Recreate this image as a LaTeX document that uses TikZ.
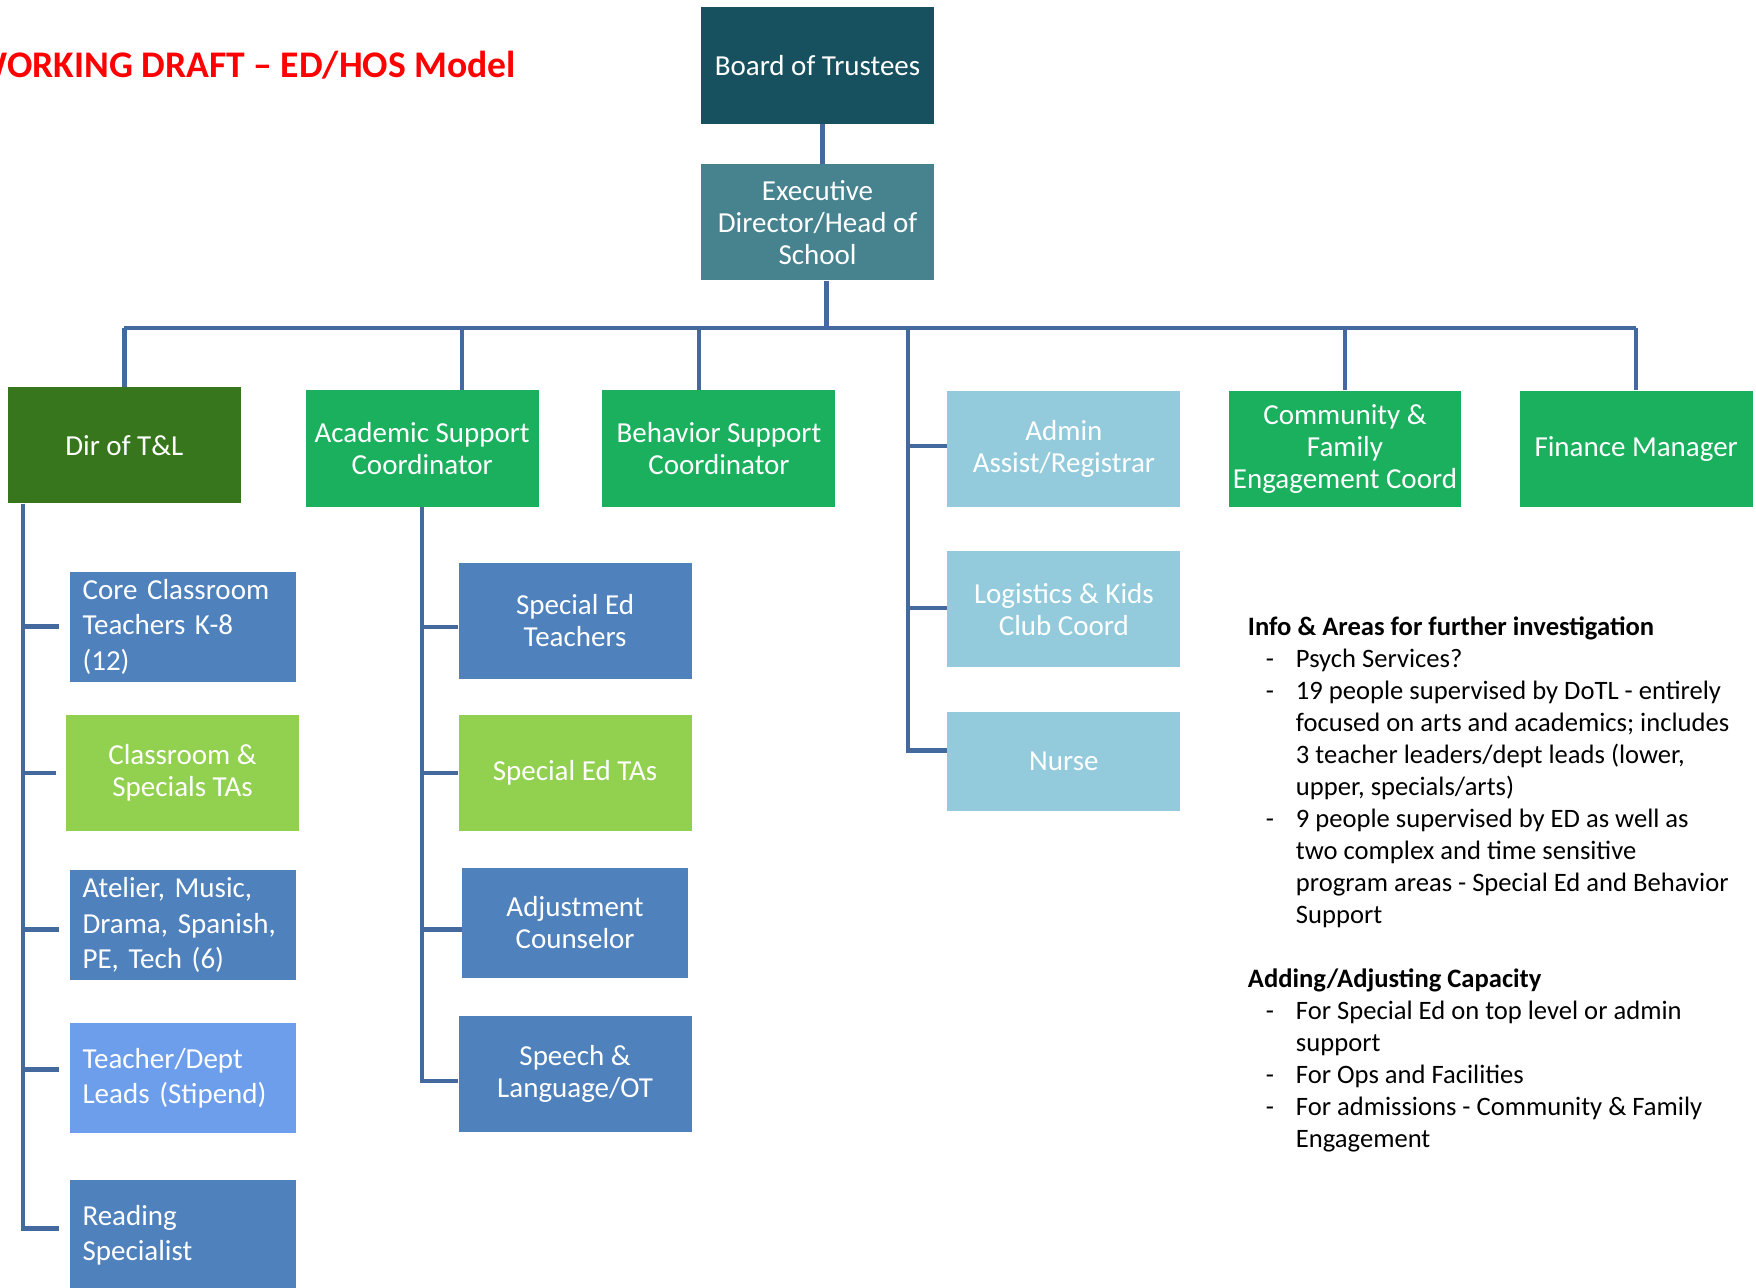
\documentclass[tikz,border=0pt]{standalone}
\usepackage{fontspec}
\setmainfont{Carlito}
\usepackage{xcolor}
\usetikzlibrary{positioning}
\definecolor{boardteal}{HTML}{17505E}
\definecolor{edteal}{HTML}{47828F}
\definecolor{darkgreen}{HTML}{38761D}
\definecolor{brightgreen}{HTML}{1AB05E}
\definecolor{limegreen}{HTML}{92D050}
\definecolor{staffblue}{HTML}{4F81BD}
\definecolor{leadblue}{HTML}{6D9EEB}
\definecolor{opsblue}{HTML}{93CBDC}
\definecolor{linkblue}{HTML}{44699E}
\newcommand{\bul}{\makebox[24pt][l]{\hspace*{9pt}-}}
\newcommand{\ind}{\hspace*{24pt}}
\frenchspacing

\begin{document}
\begin{tikzpicture}[
      x=0.56pt,y=-0.56pt,
      box/.style={text=white,inner sep=0pt,minimum width=116.5pt,
        minimum height=58.2pt,align=center,font=\fontsize{14.5}{16}\selectfont},
      leftbox/.style={box,align=left,text width=100pt,inner xsep=6.5pt,
        minimum width=113pt,minimum height=55pt,font=\fontsize{14.5}{17.7}\selectfont},
      link/.style={draw=linkblue,line width=2.2pt},
      note/.style={inner sep=0pt,align=left,font=\fontsize{13.3}{16}\selectfont}
    ]
      \useasboundingbox (0,0) rectangle (1568,1150);
      \fill[white] (0,0) rectangle (1568,1150);
      \node[anchor=base east,text=red,font=\fontsize{18.8}{22}\selectfont\bfseries]
        (title) at (467,69) {WORKING DRAFT -- ED/HOS Model};
      % top of the chart
      \node[box,fill=boardteal] (board) at (730,58.5) {Board of Trustees};
      \node[box,fill=edteal] (ed) at (730,198.5) {Executive\\Director/Head of\\School};
      % direct reports
      \node[box,fill=darkgreen] (dtl) at (111,397.5) {Dir of T\&L};
      \node[box,fill=brightgreen] (acad) at (377,400.5) {Academic Support\\Coordinator};
      \node[box,fill=brightgreen] (behav) at (642,400.5) {Behavior Support\\Coordinator};
      \node[box,fill=opsblue] (admin) at (950,401) {Admin\\Assist/Registrar};
      \node[box,fill=opsblue] (logi) at (950,544) {Logistics \& Kids\\Club Coord};
      \node[box,fill=opsblue,minimum height=49.3pt] (nurse) at (950,680) {Nurse};
      \node[box,fill=brightgreen] (comm) at (1201,401) {Community \&\\Family\\Engagement Coord};
      \node[box,fill=brightgreen] (fin) at (1461,401) {Finance Manager};
      % teaching and learning staff
      \node[leftbox,fill=staffblue] (core) at (163,559.5) {Core Classroom\\Teachers K-8\\(12)};
      \node[box,fill=limegreen] (ctas) at (163,690) {Classroom \&\\Specials TAs};
      \node[leftbox,fill=staffblue] (atel) at (163,826) {Atelier, Music,\\Drama, Spanish,\\PE, Tech (6)};
      \node[leftbox,fill=leadblue] (lead) at (163,963) {Teacher/Dept\\Leads (Stipend)};
      \node[leftbox,fill=staffblue] (read) at (163,1103) {Reading\\Specialist};
      % academic support staff
      \node[box,fill=staffblue] (sped) at (513.5,554.5) {Special Ed\\Teachers};
      \node[box,fill=limegreen] (stas) at (513.5,690) {Special Ed TAs};
      \node[box,fill=staffblue,minimum width=112.6pt,minimum height=55pt] (adj)
        at (513.5,824) {Adjustment\\Counselor};
      \node[box,fill=staffblue] (slp) at (513.5,959) {Speech \&\\Language/OT};
      % connectors
      \coordinate (bus) at (738,293);
      \coordinate (opsjoin) at (811,293);
      \coordinate (dtlspine) at ([xshift=7.8pt]dtl.south west);
      \draw[link] ([xshift=2.5pt]board.south) -- ([xshift=2.5pt]ed.north);
      \draw[link] ([xshift=4.5pt]ed.south) -- ([xshift=4.5pt]ed.south |- bus);
      \draw[link] (dtl.north |- bus) -- (fin.north |- bus);
      \foreach \n in {dtl,comm,fin}
        \draw[link] (\n.north |- bus) -- (\n.north);
      \draw[link] ([xshift=20pt]acad.north |- bus) -- ([xshift=20pt]acad.north);
      \draw[link] ([xshift=-10pt]behav.north |- bus) -- ([xshift=-10pt]behav.north);
      \foreach \n/\dy in {admin/1.5,logi/0.6,nurse/5.6}
        \draw[link] (opsjoin) |- ([yshift=\dy pt]\n.west);
      \foreach \n/\dy in {core/0,ctas/0,atel/-2.2,lead/4.5,read/3.4}
        \draw[link,shorten >=5pt] (dtlspine) |- ([yshift=\dy pt]\n.west);
      \foreach \n/\dy in {sped/-3,stas/0,adj/-3.4,slp/-3.4}
        \draw[link] (acad.south) |- ([yshift=\dy pt]\n.west);
      % notes
      \node[note,anchor=north west] (info) at (1114,550) {%
        \textbf{Info \& Areas for further investigation}\\
        \bul Psych Services?\\
        \bul 19 people supervised by DoTL - entirely\\
        \ind focused on arts and academics; includes\\
        \ind 3 teacher leaders/dept leads (lower,\\
        \ind upper, specials/arts)\\
        \bul 9 people supervised by ED as well as\\
        \ind two complex and time sensitive\\
        \ind program areas - Special Ed and Behavior\\
        \ind Support\\[16pt]
        \textbf{Adding/Adjusting Capacity}\\
        \bul For Special Ed on top level or admin\\
        \ind support\\
        \bul For Ops and Facilities\\
        \bul For admissions - Community \& Family\\
        \ind Engagement};
    \end{tikzpicture}
\end{document}
